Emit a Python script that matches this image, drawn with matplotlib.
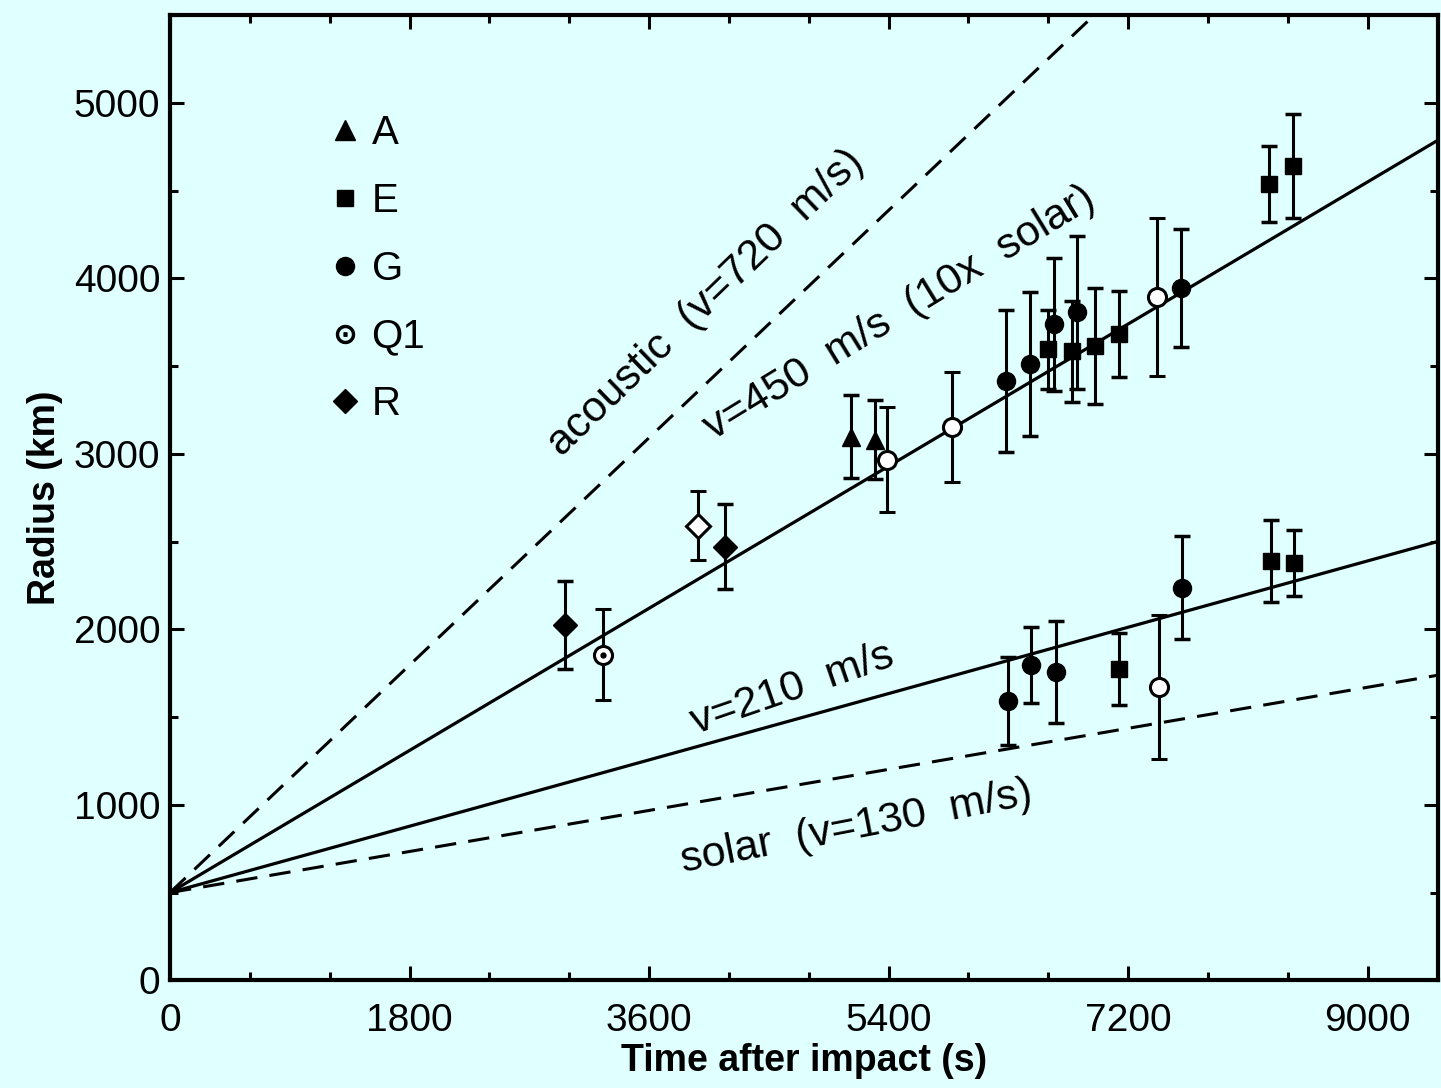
import numpy as np
import matplotlib.pyplot as plt
from matplotlib.lines import Line2D

plt.rcParams['font.family'] = ['Liberation Sans', 'DejaVu Sans']

# expansion speeds of the model fronts (m/s), all starting from 500 km
r0 = 500
v_acoustic = 720
v_fast = 450
v_slow = 210
v_solar = 130

# measurements: time after impact (s), radius (km), error (km)
t_A = [5116, 5297]
r_A = [3099, 3082]
e_A = [237, 225]

t_E = [6597, 6777, 6950, 7130, 8257, 8437, 7130, 8272, 8444]
r_E = [3596, 3584, 3613, 3682, 4538, 4640, 1775, 2391, 2380]
e_E = [225, 290, 330, 245, 217, 295, 205, 234, 189]

t_G = [6281, 6461, 6642, 6814, 7596, 6296, 6469, 6657, 7603]
r_G = [3413, 3510, 3739, 3807, 3944, 1592, 1798, 1758, 2237]
e_G = [405, 410, 380, 435, 335, 252, 217, 291, 294]

t_Q1 = [3253]
r_Q1 = [1855]
e_Q1 = [260]

t_open = [5387, 5875, 7416, 7431]
r_open = [2968, 3151, 3893, 1672]
e_open = [300, 314, 450, 411]

t_R = [2968, 4170]
r_R = [2026, 2471]
e_R = [250, 243]

t_Ropen = [3967]
r_Ropen = [2591]
e_Ropen = [195]

bg = '#e0ffff'
fig = plt.figure(figsize=(14.41, 10.88), dpi=100, facecolor=bg)
ax = fig.add_axes([0.118, 0.099, 0.880, 0.887], facecolor=bg)

t = np.linspace(0, 9530, 200)
ax.plot(t, r0 + v_acoustic * t / 1000, 'k', lw=2.2, dashes=(7, 4))
ax.plot(t, r0 + v_fast * t / 1000, 'k', lw=2.3)
ax.plot(t, r0 + v_slow * t / 1000, 'k', lw=2.3)
ax.plot(t, r0 + v_solar * t / 1000, 'k', lw=2.2, dashes=(7, 4))

eb = dict(ecolor='k', elinewidth=2.2, capsize=6, capthick=2.5, ls='none', zorder=3)
ax.errorbar(t_A, r_A, yerr=e_A, fmt='^', mfc='k', mec='k', ms=13, **eb)
ax.errorbar(t_E, r_E, yerr=e_E, fmt='s', mfc='k', mec='k', ms=12, **eb)
ax.errorbar(t_G, r_G, yerr=e_G, fmt='o', mfc='k', mec='k', ms=13, **eb)
ax.errorbar(t_open, r_open, yerr=e_open, fmt='o', mfc='white', mec='k', mew=2.2, ms=13, **eb)
ax.errorbar(t_Q1, r_Q1, yerr=e_Q1, fmt='o', mfc='white', mec='k', mew=2.2, ms=13, **eb)
ax.plot(t_Q1, r_Q1, 'o', color='k', ms=3.5, zorder=4)
ax.errorbar(t_R, r_R, yerr=e_R, fmt='D', mfc='k', mec='k', ms=12, **eb)
ax.errorbar(t_Ropen, r_Ropen, yerr=e_Ropen, fmt='D', mfc='white', mec='k', mew=2.2, ms=12, **eb)

# labels along the lines
fs = 31
ax.text(4030, 3860, 'acoustic  (v=720  m/s)', rotation=44, fontsize=fs,
        ha='center', va='center', rotation_mode='anchor')
ax.text(5480, 3800, 'v=450  m/s  (10x  solar)', rotation=31.5, fontsize=fs,
        ha='center', va='center', rotation_mode='anchor')
ax.text(4680, 1660, 'v=210  m/s', rotation=19, fontsize=fs,
        ha='center', va='center', rotation_mode='anchor')
ax.text(5160, 870, 'solar  (v=130  m/s)', rotation=11, fontsize=fs,
        ha='center', va='center', rotation_mode='anchor')

handles = [
    Line2D([], [], ls='none', marker='^', color='k', ms=14),
    Line2D([], [], ls='none', marker='s', color='k', ms=12),
    Line2D([], [], ls='none', marker='o', color='k', ms=13),
    Line2D([], [], ls='none', marker='$\\odot$', color='k', ms=13),
    Line2D([], [], ls='none', marker='D', color='k', ms=12),
]
ax.legend(handles, ['A', 'E', 'G', 'Q1', 'R'], loc='upper left',
          bbox_to_anchor=(0.097, 0.935), frameon=False, fontsize=29,
          handlelength=0.8, handletextpad=0.25, labelspacing=0.74)

ax.set_xlim(0, 9530)
ax.set_ylim(0, 5500)
ax.set_xticks(np.arange(0, 9001, 1800))
ax.set_xticks(np.arange(0, 9530, 600), minor=True)
ax.set_yticks(np.arange(0, 5001, 1000))
ax.set_yticks(np.arange(0, 5501, 500), minor=True)
ax.tick_params(which='both', direction='in', top=True, right=True, width=2.2)
ax.tick_params(which='major', length=10, labelsize=28, pad=7)
ax.tick_params(axis='x', which='major', pad=16)
ax.tick_params(which='minor', length=6)
for s in ax.spines.values():
    s.set_linewidth(3)

ax.set_xlabel('Time after impact (s)', fontsize=27, fontweight='bold', labelpad=3)
ax.set_ylabel('Radius (km)', fontsize=27, fontweight='bold', labelpad=8)

fig.savefig('out.png', dpi=100, facecolor=bg)
